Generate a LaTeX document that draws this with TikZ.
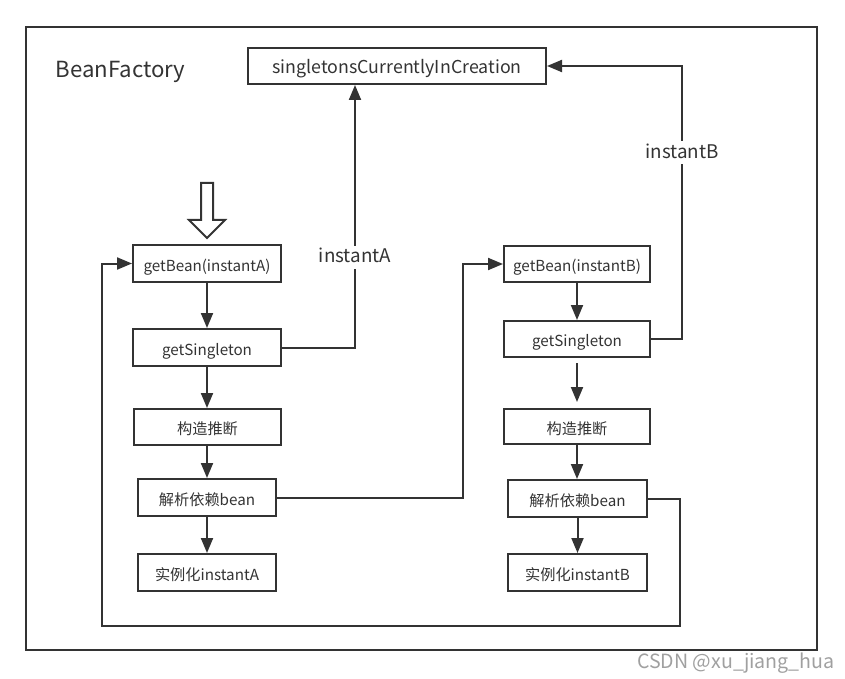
\documentclass[tikz,border=0pt]{standalone}
\usepackage{fontspec}
\setmainfont{Noto Sans CJK SC}
\usetikzlibrary{arrows.meta}
\definecolor{ink}{HTML}{333333}
\definecolor{wm}{HTML}{A0A0A0}
\tikzset{
  box/.style={draw=ink, line width=1pt, text=ink, font=\fontsize{7.6}{9}\selectfont, inner sep=0pt, text height=0.75em, text depth=0pt},
  conn/.style={draw=ink, line width=1pt},
  arr/.style={conn, -{Triangle[length=7.5pt,width=6pt]}},
  lbl/.style={fill=white, text=ink, font=\fontsize{9.4}{11}\selectfont, inner sep=1pt, text height=0.75em, text depth=0.2em},
}
\begin{document}
\begin{tikzpicture}[x=0.5pt,y=-0.5pt]
\useasboundingbox (0,0) rectangle (845,679);
% frame
\node[draw=ink, line width=1pt, minimum width=395.5pt, minimum height=311.5pt, inner sep=0pt] (frame) at (421.5,338.5) {};
\node[text=ink, font=\fontsize{11.1}{14}\selectfont, inner sep=0pt, text height=0.75em, text depth=0pt] (bf) at (120.5,70) {BeanFactory};
% top box
\node[box, font=\fontsize{8.9}{11}\selectfont, minimum width=149pt, minimum height=18pt] (sci) at (397,66) {singletonsCurrentlyInCreation};
% column A
\node[box, minimum width=74pt, minimum height=18.5pt] (gbA) at (207,263.5) {getBean(instantA)};
\node[box, minimum width=74pt, minimum height=18.5pt] (gsA) at (207,347.5) {getSingleton};
\node[box, minimum width=73.5pt, minimum height=18pt] (gzA) at (207.5,427) {构造推断};
\node[box, minimum width=69pt, minimum height=18.5pt] (jxA) at (207,497.5) {解析依赖bean};
\node[box, minimum width=69pt, minimum height=18.5pt] (slA) at (207,572.5) {实例化instantA};
% column B
\node[box, minimum width=73pt, minimum height=18pt] (gbB) at (577,264) {getBean(instantB)};
\node[box, minimum width=73pt, minimum height=18pt] (gsB) at (577,339) {getSingleton};
\node[box, minimum width=73pt, minimum height=17.5pt] (gzB) at (577,426.5) {构造推断};
\node[box, minimum width=69.5pt, minimum height=18.5pt] (jxB) at (577.5,498.5) {解析依赖bean};
\node[box, minimum width=69.5pt, minimum height=18.5pt] (slB) at (577.5,572.5) {实例化instantB};
% hollow entry arrow
\draw[draw=ink, line width=1pt, fill=white] (201,183) -- (213,183) -- (213,220) -- (225,220) -- (207,238) -- (189,220) -- (201,220) -- cycle;
% vertical flow arrows
\draw[arr] (gbA) -- (gsA);
\draw[arr] (gsA) -- (gzA.north -| gsA);
\draw[arr] (gzA.south -| gsA) -- (jxA);
\draw[arr] (jxA) -- (slA);
\draw[arr] (gbB) -- (gsB);
\draw[arr, shorten <=5pt/2, shorten >=6pt/2] (gsB) -- (gzB);
\draw[arr] (gzB) -- (jxB.north -| gzB);
\draw[arr] (jxB) -- (slB);
% to singletonsCurrentlyInCreation
\coordinate (ta) at (355,347.5);
\draw[arr] (gsA.east) -- (ta) -- (ta |- sci.south);
\node[lbl] (la) at (355,257) {instantA};
\coordinate (tb) at (682,339);
\draw[arr] (gsB.east) -- (tb) -- (tb |- sci.east) -- (sci.east);
\node[lbl] (lb) at (682,153) {instantB};
% A depends on B
\coordinate (da) at (463,497.5);
\draw[arr] (jxA.east) -- (da) -- (da |- gbB.west) -- (gbB.west);
% B depends on A (loop)
\coordinate (db1) at (680,498.5);
\coordinate (db2) at (680,626);
\coordinate (db3) at (102,626);
\draw[arr] (jxB.east) -- (db1) -- (db2) -- (db3) -- (db3 |- gbA.west) -- (gbA.west);
% watermark
\node[text=wm, font=\fontsize{9.8}{12}\selectfont, inner sep=0pt, text height=0.75em, text depth=0pt] (wmk) at (736,661) {CSDN @xu\_jiang\_hua};
\end{tikzpicture}
\end{document}
